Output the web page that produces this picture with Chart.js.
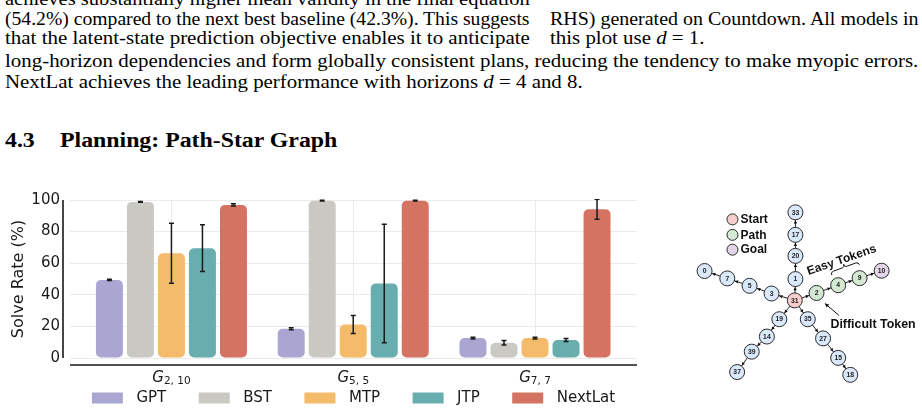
<!DOCTYPE html>
<html>
<head>
<meta charset="utf-8">
<script src="https://cdn.jsdelivr.net/npm/chart.js@4.4.1/dist/chart.umd.min.js"></script>
<style>
  html, body { margin: 0; padding: 0; background: #fff; }
  body { width: 922px; height: 413px; position: relative; overflow: hidden; }
  .txt { position: absolute; font-family: 'Liberation Serif', 'Times New Roman', serif; font-size: 18px; line-height: 20px; white-space: nowrap; color: #000; transform: scaleX(1.16); transform-origin: 0 0; }
  .head { position: absolute; font-family: 'Liberation Serif', 'Times New Roman', serif; font-weight: bold; font-size: 20px; line-height: 20px; white-space: nowrap; transform: scaleX(1.19); transform-origin: 0 0; }
  canvas { position: absolute; }
</style>
</head>
<body>
<div class="txt" data-fit="525" style="left:5px; top:-11px">achieves substantially higher mean validity in the final equation</div>
<div class="txt" data-fit="525" style="left:5px; top:9px">(54.2%) compared to the next best baseline (42.3%). This suggests</div>
<div class="txt" data-fit="525" style="left:5px; top:28px">that the latent-state prediction objective enables it to anticipate</div>
<div class="txt" data-fit="368" style="left:550px; top:9px">RHS) generated on Countdown. All models in</div>
<div class="txt" style="left:550px; top:28px">this plot use <i>d</i> = 1.</div>
<div class="txt" data-fit="913" style="left:5px; top:51px">long-horizon dependencies and form globally consistent plans, reducing the tendency to make myopic errors.</div>
<div class="txt" style="left:5px; top:72px">NextLat achieves the leading performance with horizons <i>d</i> = 4 and 8.</div>
<div class="head" style="left:5px; top:130px">4.3</div>
<div class="head" style="left:60px; top:130px">Planning: Path-Star Graph</div>

<canvas id="solveChart" width="660" height="233" style="left:0px; top:180px"></canvas>
<canvas id="starGraph" width="242" height="233" style="left:680px; top:180px"></canvas>

<script>
// stretch full-width text lines to their column width
document.querySelectorAll('.txt[data-fit]').forEach((el) => {
  let target = Number(el.dataset.fit);
  el.style.transform = 'scaleX(' + (target / el.offsetWidth) + ')';
});

// ---- solve rate data ----
let groupNames = ['G', 'G', 'G'];
let groupSubs = ['2, 10', '5, 5', '7, 7'];
let models = ['GPT', 'BST', 'MTP', 'JTP', 'NextLat'];

let gptRates = [49.4, 18.5, 12.6];
let bstRates = [98.8, 99.6, 9.6];
let mtpRates = [66.3, 21.2, 12.6];
let jtpRates = [69.5, 47.2, 11.4];
let nextLatRates = [96.9, 99.6, 94.1];

let gptErr = [0.4, 0.6, 0.5];
let bstErr = [0.3, 0.2, 1.4];
let mtpErr = [19.0, 5.7, 0.6];
let jtpErr = [14.8, 37.5, 1.0];
let nextLatErr = [0.7, 0.2, 6.3];

let yTicks = [0, 20, 40, 60, 80, 100];

let modelColors = ['#a9a6d2', '#c9c8c3', '#f4bb6a', '#68aeae', '#d57363'];

// ---- path-star graph data ----
let nodeIds = [31, 1, 20, 17, 33, 3, 5, 7, 0, 2, 4, 9, 10, 19, 14, 39, 37, 35, 27, 15, 18];
let nodeX = [114.3, 115, 115, 115, 115, 89.3, 65.7, 41.7, 17.3, 137.7, 161, 184, 207.7, 97.7, 84.3, 68, 52.3, 128.3, 144.7, 161, 174];
let nodeY = [120.7, 97.7, 72.7, 50, 25.7, 113.3, 105, 97, 89, 112.7, 104.3, 96.7, 88.7, 141, 159.7, 176, 198, 141, 161.7, 182.7, 201];
let startNode = 31;
let pathNodes = [2, 4, 9];
let goalNode = 10;
let branches = [
  [31, 1, 20, 17, 33],
  [31, 3, 5, 7, 0],
  [31, 2, 4, 9, 10],
  [31, 19, 14, 39, 37],
  [31, 35, 27, 15, 18],
];
let keyLabels = ['Start', 'Path', 'Goal'];
let keyX = [47.3, 47.3, 47.3];
let keyY = [33.3, 50, 66];

let sans = '"DejaVu Sans", sans-serif';
let ink = '#1a1a1a';

let rateSeries = [gptRates, bstRates, mtpRates, jtpRates, nextLatRates];
let errSeries = [gptErr, bstErr, mtpErr, jtpErr, nextLatErr];

let errorBars = {
  id: 'errorBars',
  afterDatasetsDraw(chart) {
    let { ctx, chartArea, scales: { y } } = chart;
    ctx.save();
    ctx.beginPath();
    ctx.rect(chartArea.left, chartArea.top - 1, chartArea.right - chartArea.left, chartArea.bottom - chartArea.top + 2);
    ctx.clip();
    ctx.strokeStyle = ink;
    ctx.lineWidth = 1.5;
    chart.data.datasets.forEach((ds, di) => {
      let meta = chart.getDatasetMeta(di);
      meta.data.forEach((bar, i) => {
        let v = ds.data[i].y;
        let e = ds.errors[i];
        let top = y.getPixelForValue(v + e);
        let bot = y.getPixelForValue(v - e);
        ctx.beginPath();
        ctx.moveTo(bar.x, top);
        ctx.lineTo(bar.x, bot);
        ctx.moveTo(bar.x - 2.5, top);
        ctx.lineTo(bar.x + 2.5, top);
        ctx.moveTo(bar.x - 2.5, bot);
        ctx.lineTo(bar.x + 2.5, bot);
        ctx.stroke();
      });
    });
    ctx.restore();
  },
};

let spinesAndLabels = {
  id: 'spinesAndLabels',
  afterDraw(chart) {
    let { ctx, chartArea, scales: { x, y } } = chart;
    ctx.save();
    // offset spines
    ctx.strokeStyle = ink;
    ctx.lineWidth = 1.6;
    ctx.beginPath();
    ctx.moveTo(chartArea.left - 7, y.getPixelForValue(0));
    ctx.lineTo(chartArea.left - 7, y.getPixelForValue(100));
    ctx.moveTo(chartArea.left, chartArea.bottom + 7);
    ctx.lineTo(chartArea.right, chartArea.bottom + 7);
    ctx.stroke();

    // group tick labels, G with subscript
    ctx.fillStyle = ink;
    ctx.textBaseline = 'alphabetic';
    ctx.textAlign = 'left';
    groupNames.forEach((name, i) => {
      let cx = x.getPixelForValue(i);
      ctx.font = 'italic 15px ' + sans;
      let wMain = ctx.measureText(name).width;
      ctx.font = '10.5px ' + sans;
      let wSub = ctx.measureText(groupSubs[i]).width;
      let left = cx - (wMain + wSub) / 2;
      let base = chartArea.bottom + 24;
      ctx.font = 'italic 15px ' + sans;
      ctx.fillText(name, left, base);
      ctx.font = '10.5px ' + sans;
      ctx.fillText(groupSubs[i], left + wMain, base + 2);
    });

    // legend row
    ctx.font = '15px ' + sans;
    ctx.textBaseline = 'middle';
    let boxW = 31, boxH = 11, gapText = 13.5, gapItem = 32.5;
    let widths = models.map((m) => ctx.measureText(m).width);
    let total = widths.reduce((s, w) => s + boxW + gapText + w, 0) + gapItem * (models.length - 1);
    let cursor = (chartArea.left + chartArea.right) / 2 - total / 2;
    let midY = chartArea.bottom + 40;
    models.forEach((m, i) => {
      ctx.fillStyle = modelColors[i];
      ctx.fillRect(cursor, midY - boxH / 2, boxW, boxH);
      ctx.fillStyle = ink;
      ctx.fillText(m, cursor + boxW + gapText, midY + 0.5);
      cursor += boxW + gapText + widths[i] + gapItem;
    });
    ctx.restore();
  },
};

let solveChart = () => {
  let ctx = document.getElementById('solveChart').getContext('2d');

  let data = {
    datasets: models.map((model, m) => ({
      label: model,
      data: rateSeries[m].map((v, i) => ({ x: i, y: v })),
      errors: errSeries[m],
      backgroundColor: modelColors[m],
      borderWidth: 0,
      borderRadius: 5,
      borderSkipped: false,
      categoryPercentage: 0.853,
      barPercentage: 0.87,
    })),
  };

  new Chart(ctx, {
    type: 'bar',
    data: data,
    plugins: [errorBars, spinesAndLabels],
    options: {
      responsive: false,
      animation: false,
      layout: { padding: { top: 20, right: 23, left: 0, bottom: 0 } },
      plugins: {
        legend: { display: false },
        tooltip: { enabled: false },
      },
      scales: {
        x: {
          type: 'linear',
          min: -0.558,
          max: 2.561,
          offset: false,
          grid: { offset: false, color: '#ebebeb', lineWidth: 1, drawTicks: false },
          border: { display: false },
          ticks: { display: false },
          afterBuildTicks: (scale) => {
            scale.ticks = groupNames.map((_, i) => ({ value: i }));
          },
          afterFit: (scale) => {
            scale.height = 55;
          },
        },
        y: {
          min: 0,
          max: 100,
          grid: { color: '#ebebeb', lineWidth: 1, drawTicks: false },
          border: { display: false },
          afterBuildTicks: (scale) => {
            scale.ticks = yTicks.map((v) => ({ value: v }));
          },
          ticks: {
            padding: 10,
            color: ink,
            font: { family: 'DejaVu Sans', size: 15 },
          },
          title: {
            display: true,
            text: 'Solve Rate (%)',
            color: ink,
            font: { family: 'DejaVu Sans', size: 16 },
            padding: { top: 9, bottom: 0 },
          },
          afterFit: (scale) => {
            scale.width = 70;
          },
        },
      },
    },
  });
};

// ---- path-star graph ----
let nodePos = (id) => {
  let k = nodeIds.indexOf(id);
  return { x: nodeX[k], y: nodeY[k] };
};

let nodeFill = (id) => {
  if (id === startNode) return '#f8cecc';
  if (id === goalNode) return '#e1d5e7';
  if (pathNodes.includes(id)) return '#d5e8d4';
  return '#dae8fc';
};

let arrowHead = (ctx, tx, ty, dx, dy, len, half) => {
  ctx.beginPath();
  ctx.moveTo(tx, ty);
  ctx.lineTo(tx - dx * len - dy * half, ty - dy * len + dx * half);
  ctx.lineTo(tx - dx * len + dy * half, ty - dy * len - dx * half);
  ctx.closePath();
  ctx.fill();
};

let graphDecor = {
  id: 'graphDecor',
  afterDatasetsDraw(chart) {
    let { ctx, scales: { x, y } } = chart;
    let px = (p) => ({ x: x.getPixelForValue(p.x), y: y.getPixelForValue(p.y) });
    ctx.save();
    ctx.fillStyle = '#111';

    // arrowheads on every edge, pointing outward
    branches.forEach((branch) => {
      for (let i = 1; i < branch.length; i++) {
        let a = px(nodePos(branch[i - 1]));
        let b = px(nodePos(branch[i]));
        let dx = b.x - a.x, dy = b.y - a.y;
        let len = Math.hypot(dx, dy);
        dx /= len; dy /= len;
        arrowHead(ctx, b.x - dx * 8, b.y - dy * 8, dx, dy, 3.2, 1.7);
      }
    });

    // node numbers
    let nodesMeta = chart.getDatasetMeta(branches.length);
    ctx.font = 'bold 6.8px "Liberation Sans", Arial, sans-serif';
    ctx.textAlign = 'center';
    ctx.textBaseline = 'middle';
    ctx.fillStyle = '#222';
    nodesMeta.data.forEach((pt, i) => {
      ctx.fillText(String(nodeIds[i]), pt.x, pt.y + 0.3);
    });

    // key labels
    let keyMeta = chart.getDatasetMeta(branches.length + 1);
    ctx.font = 'bold 12px "Liberation Sans", Arial, sans-serif';
    ctx.textAlign = 'left';
    ctx.fillStyle = '#111';
    keyMeta.data.forEach((pt, i) => {
      ctx.fillText(keyLabels[i], pt.x + 8, pt.y + 0.5);
    });

    // "Easy Tokens" with brace
    let easy = px({ x: 164.7, y: 77.3 });
    ctx.save();
    ctx.translate(easy.x, easy.y);
    ctx.rotate(-19 * Math.PI / 180);
    ctx.font = 'bold 12px "Liberation Sans", Arial, sans-serif';
    ctx.textAlign = 'center';
    ctx.fillText('Easy Tokens', 0, 0);
    ctx.restore();

    let bA = px({ x: 154, y: 93.3 });
    let bB = px({ x: 184, y: 82.3 });
    let ux = bB.x - bA.x, uy = bB.y - bA.y;
    let ul = Math.hypot(ux, uy);
    ux /= ul; uy /= ul;
    let nx = uy, ny = -ux;
    let mx = (bA.x + bB.x) / 2, my = (bA.y + bB.y) / 2;
    ctx.strokeStyle = '#111';
    ctx.lineWidth = 1;
    ctx.beginPath();
    ctx.moveTo(bA.x, bA.y);
    ctx.quadraticCurveTo(bA.x + nx * 3, bA.y + ny * 3, bA.x + nx * 3 + ux * 3, bA.y + ny * 3 + uy * 3);
    ctx.lineTo(mx + nx * 3 - ux * 2, my + ny * 3 - uy * 2);
    ctx.quadraticCurveTo(mx + nx * 3, my + ny * 3, mx + nx * 6, my + ny * 6);
    ctx.quadraticCurveTo(mx + nx * 3, my + ny * 3, mx + nx * 3 + ux * 2, my + ny * 3 + uy * 2);
    ctx.lineTo(bB.x + nx * 3 - ux * 3, bB.y + ny * 3 - uy * 3);
    ctx.quadraticCurveTo(bB.x + nx * 3, bB.y + ny * 3, bB.x, bB.y);
    ctx.stroke();

    // "Difficult Token" with pointer
    ctx.font = 'bold 12.4px "Liberation Sans", Arial, sans-serif';
    ctx.textAlign = 'left';
    let diff = px({ x: 152.7, y: 146.7 });
    ctx.fillText('Difficult Token', diff.x, diff.y);
    let pA = px({ x: 162, y: 137 });
    let pB = px({ x: 146.7, y: 124 });
    ctx.beginPath();
    ctx.moveTo(pA.x, pA.y);
    ctx.lineTo(pB.x, pB.y);
    ctx.stroke();
    let dx = pB.x - pA.x, dy = pB.y - pA.y;
    let dl = Math.hypot(dx, dy);
    arrowHead(ctx, pB.x, pB.y, dx / dl, dy / dl, 4, 2);
    ctx.restore();
  },
};

let starGraph = () => {
  let ctx = document.getElementById('starGraph').getContext('2d');

  let edgeSets = branches.map((branch) => ({
    type: 'line',
    data: branch.map((id) => nodePos(id)),
    borderColor: '#222',
    borderWidth: 1,
    pointRadius: 0,
    showLine: true,
    order: 2,
  }));

  let nodeSet = {
    data: nodeIds.map((id) => nodePos(id)),
    backgroundColor: nodeIds.map((id) => nodeFill(id)),
    borderColor: '#2a2a2a',
    borderWidth: 1,
    pointRadius: 7.5,
    order: 1,
  };

  let keySet = {
    data: keyX.map((kx, i) => ({ x: kx, y: keyY[i] })),
    backgroundColor: [nodeFill(startNode), nodeFill(pathNodes[0]), nodeFill(goalNode)],
    borderColor: '#2a2a2a',
    borderWidth: 1,
    pointRadius: 5.5,
    order: 1,
  };

  new Chart(ctx, {
    type: 'scatter',
    data: { datasets: [...edgeSets, nodeSet, keySet] },
    plugins: [graphDecor],
    options: {
      responsive: false,
      animation: false,
      layout: { padding: 0 },
      plugins: {
        legend: { display: false },
        tooltip: { enabled: false },
      },
      scales: {
        x: { type: 'linear', min: 0, max: 242, display: false },
        y: { type: 'linear', min: 0, max: 233, reverse: true, display: false },
      },
    },
  });
};

solveChart();
starGraph();
</script>
</body>
</html>
